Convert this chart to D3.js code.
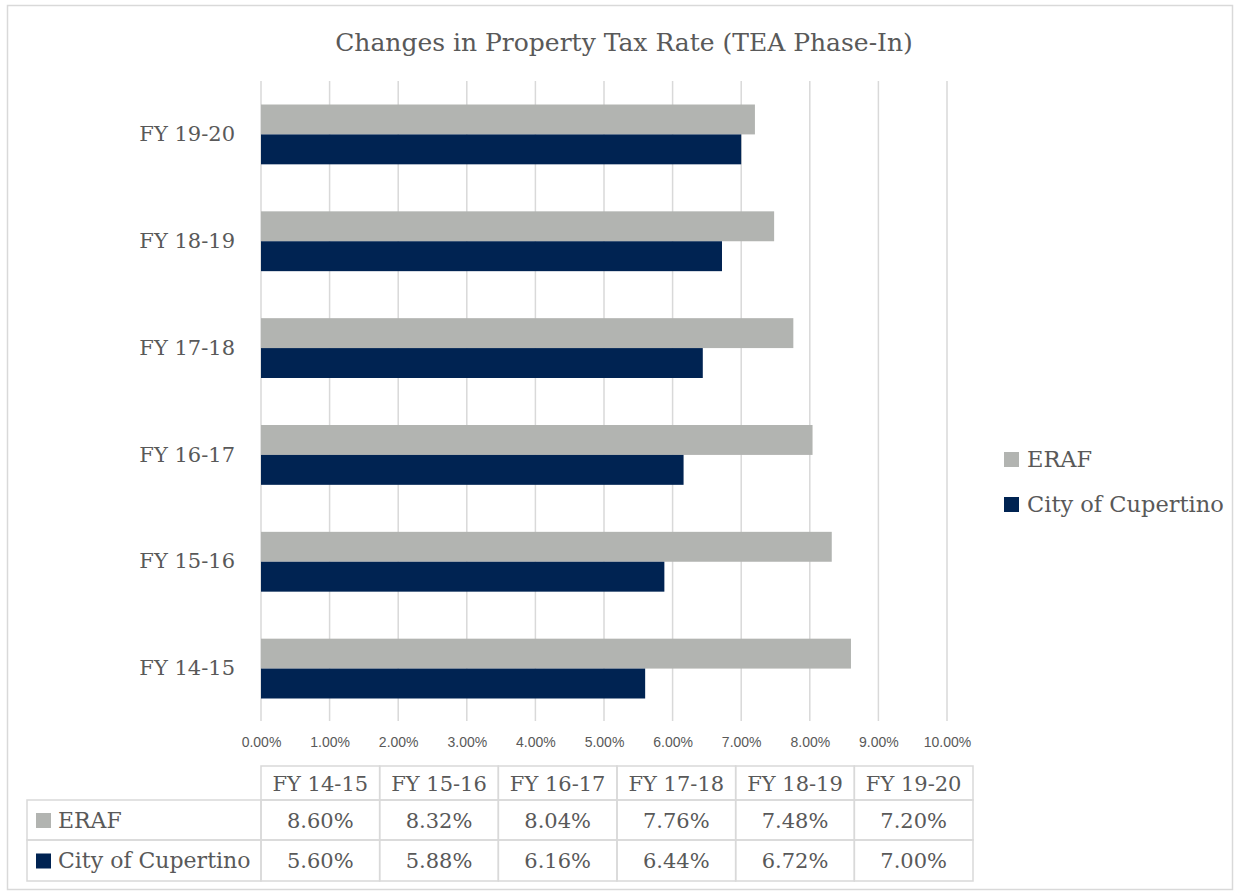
<!DOCTYPE html>
<html>
  <head>
    <meta charset="utf-8">
    <title>Changes in Property Tax Rate</title>
    <script src="https://d3js.org/d3.v7.min.js"></script>
    <style>
      body { margin: 0; background: #fff; }
    </style>
  </head>
  <body>
    <script>
    var w = 1238;
    var h = 896;

    // data
    var years = ["FY 14-15", "FY 15-16", "FY 16-17", "FY 17-18", "FY 18-19", "FY 19-20"];
    var seriesNames = ["ERAF", "City of Cupertino"];
    var eraf = [8.60, 8.32, 8.04, 7.76, 7.48, 7.20];
    var city = [5.60, 5.88, 6.16, 6.44, 6.72, 7.00];
    var xTicks = [0, 1, 2, 3, 4, 5, 6, 7, 8, 9, 10];

    var colors = ["#b2b4b1", "#002352"];
    var serif = "'DejaVu Serif', serif";
    var textGrey = "#595959";
    var lineGrey = "#d9d9d9";

    var rows = years.map(function(y, i){
      return {year: y, values: [eraf[i], city[i]]};
    });

    var svg = d3.select("body")
      .append("svg")
      .attr("width", w)
      .attr("height", h);

    // chart border
    svg.append("rect")
      .attr("x", 7.5).attr("y", 5.5)
      .attr("width", 1225).attr("height", 884)
      .attr("fill", "#fff")
      .attr("stroke", lineGrey)
      .attr("stroke-width", 1.5);

    svg.append("text")
      .attr("x", 624).attr("y", 51)
      .attr("text-anchor", "middle")
      .attr("font-family", serif)
      .attr("font-size", "25px")
      .attr("fill", textGrey)
      .text("Changes in Property Tax Rate (TEA Phase-In)");

    var x = d3.scaleLinear().domain([0, 10]).range([261, 947]);

    var y = d3.scaleBand()
      .domain(years.slice().reverse())
      .range([81, 722])
      .paddingInner(0.44)
      .paddingOuter(0.22);

    var ySub = d3.scaleBand()
      .domain(seriesNames)
      .range([0, y.bandwidth()]);

    // gridlines
    svg.append("g")
      .selectAll("line")
      .data(xTicks)
      .enter()
      .append("line")
      .attr("x1", function(d){ return x(d) })
      .attr("x2", function(d){ return x(d) })
      .attr("y1", 81)
      .attr("y2", 721)
      .attr("stroke", lineGrey)
      .attr("stroke-width", 1.5);

    // x axis labels
    var xAxis = d3.axisBottom(x)
      .tickValues(xTicks)
      .tickSize(0)
      .tickFormat(function(d){ return d.toFixed(2) + "%" });

    var gx = svg.append("g")
      .attr("transform", "translate(0,734)")
      .call(xAxis);
    gx.select(".domain").remove();
    gx.selectAll("text")
      .attr("font-family", "'Liberation Sans', sans-serif")
      .attr("font-size", "14px")
      .attr("fill", textGrey);

    // bars
    var groups = svg.append("g")
      .selectAll("g")
      .data(rows)
      .enter()
      .append("g")
      .attr("transform", function(d){ return "translate(0," + y(d.year) + ")" });

    groups.selectAll("rect")
      .data(function(d){ return d.values.map(function(v, i){ return {name: seriesNames[i], value: v, i: i} }) })
      .enter()
      .append("rect")
      .attr("x", x(0))
      .attr("y", function(d){ return ySub(d.name) })
      .attr("width", function(d){ return x(d.value) - x(0) })
      .attr("height", ySub.bandwidth())
      .attr("fill", function(d){ return colors[d.i] });

    // category labels
    var yAxis = d3.axisLeft(y).tickSize(0).tickPadding(0);
    var gy = svg.append("g")
      .attr("transform", "translate(235,0)")
      .call(yAxis);
    gy.select(".domain").remove();
    gy.selectAll("text")
      .attr("font-family", serif)
      .attr("font-size", "21px")
      .attr("fill", textGrey);

    // legend
    var legend = svg.append("g")
      .selectAll("g")
      .data(seriesNames)
      .enter()
      .append("g")
      .attr("transform", function(d, i){ return "translate(1004," + (459 + i * 45) + ")" });

    legend.append("rect")
      .attr("x", 0).attr("y", -7)
      .attr("width", 15).attr("height", 15)
      .attr("fill", function(d, i){ return colors[i] });

    legend.append("text")
      .attr("x", 23).attr("y", 0)
      .attr("dy", "0.36em")
      .attr("font-family", serif)
      .attr("font-size", "22.5px")
      .attr("fill", textGrey)
      .text(function(d){ return d });

    // data table
    var colX = d3.scaleBand().domain(years).range([261, 973]);
    var rowTop = [766, 800, 840];
    var rowBottom = [800, 840, 881];
    var tableLeft = 27;
    var table = svg.append("g");

    // header cells
    table.selectAll("rect.head")
      .data(years)
      .enter()
      .append("rect")
      .attr("class", "head")
      .attr("x", function(d){ return colX(d) })
      .attr("y", rowTop[0])
      .attr("width", colX.bandwidth())
      .attr("height", rowBottom[0] - rowTop[0])
      .attr("fill", "none")
      .attr("stroke", lineGrey)
      .attr("stroke-width", 1.5);

    table.selectAll("text.head")
      .data(years)
      .enter()
      .append("text")
      .attr("class", "head")
      .attr("x", function(d){ return colX(d) + colX.bandwidth() / 2 })
      .attr("y", (rowTop[0] + rowBottom[0]) / 2)
      .attr("dy", "0.36em")
      .attr("text-anchor", "middle")
      .attr("font-family", serif)
      .attr("font-size", "21px")
      .attr("fill", textGrey)
      .text(function(d){ return d });

    var seriesRows = [eraf, city];
    seriesRows.forEach(function(vals, si){
      var top = rowTop[si + 1];
      var bot = rowBottom[si + 1];
      var mid = (top + bot) / 2;

      table.append("rect")
        .attr("x", tableLeft).attr("y", top)
        .attr("width", colX(years[0]) - tableLeft)
        .attr("height", bot - top)
        .attr("fill", "none")
        .attr("stroke", lineGrey)
        .attr("stroke-width", 1.5);

      table.append("rect")
        .attr("x", 36).attr("y", mid - 7)
        .attr("width", 15).attr("height", 15)
        .attr("fill", colors[si]);

      table.append("text")
        .attr("x", 58).attr("y", mid)
        .attr("dy", "0.36em")
        .attr("font-family", serif)
        .attr("font-size", "22px")
        .attr("fill", textGrey)
        .text(seriesNames[si]);

      var cells = table.append("g")
        .selectAll("g")
        .data(vals)
        .enter()
        .append("g");

      cells.append("rect")
        .attr("x", function(d, i){ return colX(years[i]) })
        .attr("y", top)
        .attr("width", colX.bandwidth())
        .attr("height", bot - top)
        .attr("fill", "none")
        .attr("stroke", lineGrey)
        .attr("stroke-width", 1.5);

      cells.append("text")
        .attr("x", function(d, i){ return colX(years[i]) + colX.bandwidth() / 2 })
        .attr("y", mid)
        .attr("dy", "0.36em")
        .attr("text-anchor", "middle")
        .attr("font-family", serif)
        .attr("font-size", "21px")
        .attr("fill", textGrey)
        .text(function(d){ return d.toFixed(2) + "%" });
    });
    </script>
  </body>
</html>
